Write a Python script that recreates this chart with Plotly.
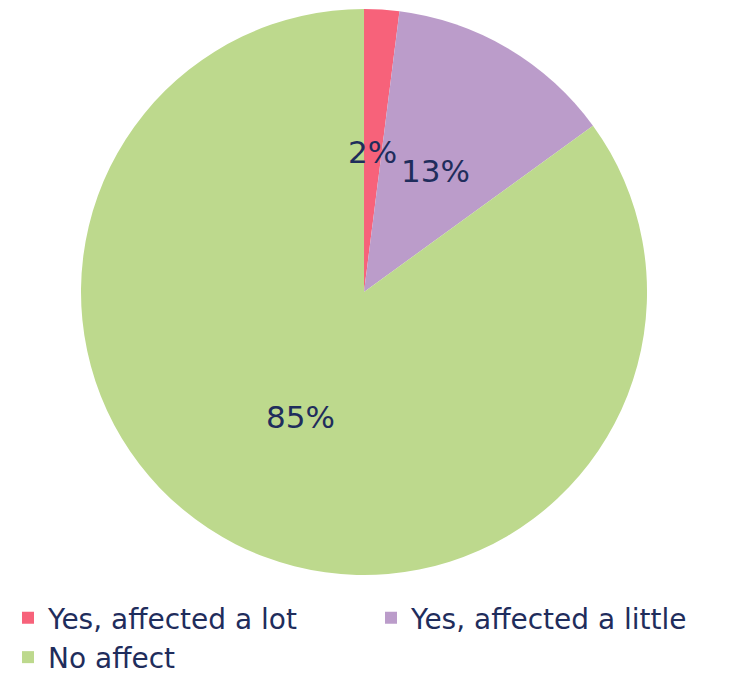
import math
import plotly.graph_objects as go

categories = ["Yes, affected a lot", "Yes, affected a little", "No affect"]
values = [2, 13, 85]
colors = ["#F7627A", "#BB9CCA", "#BDD98D"]

W, H = 733, 694
domain_x = [0.0996, 0.8718]
domain_y = [0.1830, 0.9986]
text_color = "#1F2D5C"
font_family = "DejaVu Sans, Verdana, sans-serif"

fig = go.Figure(go.Pie(
    labels=categories,
    values=values,
    marker=dict(colors=colors, line=dict(width=0)),
    sort=False,
    direction="clockwise",
    rotation=0,
    textinfo="none",
    hoverinfo="label+percent",
    domain=dict(x=domain_x, y=domain_y),
    showlegend=True,
))

# slice labels placed along each slice's mid-angle, derived from the data
cx = (domain_x[0] + domain_x[1]) / 2 * W
cy = (1 - (domain_y[0] + domain_y[1]) / 2) * H
r = min((domain_x[1] - domain_x[0]) * W, (domain_y[1] - domain_y[0]) * H) / 2
total = sum(values)
cum = 0
for v in values:
    mid = (cum + v / 2) / total * 2 * math.pi
    cum += v
    px = cx + 0.495 * r * math.sin(mid)
    py = cy - 0.495 * r * math.cos(mid)
    fig.add_annotation(
        x=px / W, y=1 - py / H, xref="paper", yref="paper",
        text=f"{round(v / total * 100)}%", showarrow=False,
        font=dict(size=31, color=text_color, family=font_family),
        xanchor="center", yanchor="middle",
    )

fig.update_layout(
    width=W, height=H,
    margin=dict(l=0, r=0, t=0, b=0),
    paper_bgcolor="white",
    plot_bgcolor="white",
    font=dict(family=font_family, color=text_color),
    legend=dict(
        orientation="h",
        x=0.0, xanchor="left",
        y=0.157, yanchor="top",
        font=dict(size=28, color=text_color, family=font_family),
        entrywidth=318, entrywidthmode="pixels",
        traceorder="normal",
        itemclick=False,
        tracegroupgap=0,
    ),
)

fig.write_html("out.html")
